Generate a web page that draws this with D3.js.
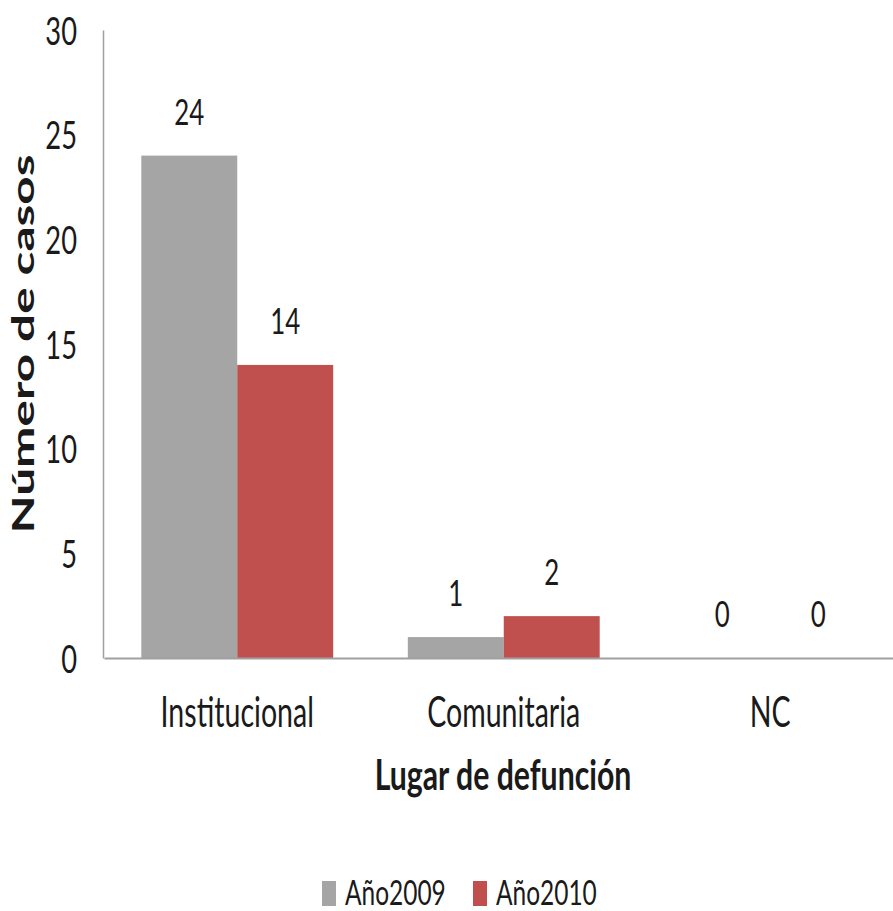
<!DOCTYPE html>
<html>
<head>
<meta charset="utf-8">
<script src="https://cdn.jsdelivr.net/npm/d3@7"></script>
<style>
  html, body { margin: 0; padding: 0; background: #fff; }
  svg { display: block; }
  text { font-family: Lato, "Open Sans", sans-serif; fill: #1a1a1a; }
</style>
</head>
<body>
<svg id="chart" width="893" height="911"></svg>
<script>
// Deaths by place of death, two years
const categories = ["Institucional", "Comunitaria", "NC"];
const seriesNames = ["Año2009", "Año2010"];
const values2009 = [24, 1, 0];
const values2010 = [14, 2, 0];
const yTicks = [0, 5, 10, 15, 20, 25, 30];
const colors = ["#a5a5a5", "#c0504d"];

const svg = d3.select("#chart");
const W = 893, H = 911;
svg.append("rect").attr("width", W).attr("height", H).attr("fill", "#fff");

// narrow-text factor for the condensed lettering
const SX = 0.7;

const y = d3.scaleLinear().domain([0, 30]).range([658, 30]);
const x0 = d3.scaleBand().domain(categories).range([104, 903.5])
  .paddingInner(0.28).paddingOuter(0.14);
const x1 = d3.scaleBand().domain(seriesNames).range([0, x0.bandwidth()]).padding(0);

const rows = categories.map((c, i) => ({
  category: c,
  values: [
    { name: seriesNames[0], value: values2009[i] },
    { name: seriesNames[1], value: values2010[i] }
  ]
}));

// bars
const groups = svg.append("g").selectAll("g").data(rows).join("g")
  .attr("transform", d => `translate(${x0(d.category)},0)`);
groups.selectAll("rect").data(d => d.values).join("rect")
  .attr("x", d => x1(d.name))
  .attr("y", d => y(d.value))
  .attr("width", x1.bandwidth())
  .attr("height", d => y(0) - y(d.value))
  .attr("fill", (d, i) => colors[i]);

// value labels
groups.selectAll("text").data(d => d.values).join("text")
  .attr("text-anchor", "middle")
  .attr("font-size", 37)
  .attr("transform", d => `translate(${x1(d.name) + x1.bandwidth() / 2},${y(d.value) - 31}) scale(${SX},1)`)
  .text(d => d.value);

// y axis
const yAxis = svg.append("g").attr("transform", "translate(103,0)")
  .call(d3.axisLeft(y).tickValues(yTicks).tickSize(0).tickSizeOuter(0).tickPadding(0));
yAxis.select(".domain").attr("stroke", "#a0a0a0").attr("stroke-width", 1.5);
yAxis.selectAll(".tick text")
  .attr("font-family", "Lato, 'Open Sans', sans-serif")
  .attr("font-size", 39)
  .attr("fill", "#1a1a1a")
  .attr("x", 0).attr("dy", "0.36em")
  .attr("transform", `translate(-26,0) scale(${SX},1)`);

// x axis
const xAxis = svg.append("g").attr("transform", `translate(0,${y(0)})`)
  .call(d3.axisBottom(x0).tickSize(0).tickSizeOuter(0).tickPadding(0));
xAxis.select(".domain").attr("stroke", "#a0a0a0").attr("stroke-width", 2);
xAxis.selectAll(".tick text")
  .attr("font-family", "Lato, 'Open Sans', sans-serif")
  .attr("font-size", 42)
  .attr("fill", "#1a1a1a")
  .attr("y", 0).attr("dy", 0)
  .attr("transform", `translate(0,69) scale(0.68,1)`);

// axis titles
svg.append("text")
  .attr("text-anchor", "middle")
  .attr("font-size", 42)
  .attr("font-weight", "bold")
  .attr("fill", "#000")
  .attr("transform", `translate(503,790) scale(0.72,1)`)
  .text("Lugar de defunción");

svg.append("text")
  .attr("text-anchor", "middle")
  .attr("font-family", "'Liberation Sans', Arial, sans-serif")
  .attr("font-size", 30)
  .attr("font-weight", "bold")
  .attr("fill", "#000")
  .attr("transform", "translate(34,344) rotate(-90) scale(1.65,1)")
  .text("Número de casos");

// legend
const legend = svg.append("g").attr("transform", "translate(322,881)");
const item = legend.selectAll("g").data(seriesNames).join("g")
  .attr("transform", (d, i) => `translate(${i * 151},0)`);
item.append("rect").attr("width", 14).attr("height", 25)
  .attr("fill", (d, i) => colors[i]);
item.append("text")
  .attr("font-size", 34)
  .attr("transform", `translate(23,24) scale(0.72,1)`)
  .text(d => d);
</script>
</body>
</html>
